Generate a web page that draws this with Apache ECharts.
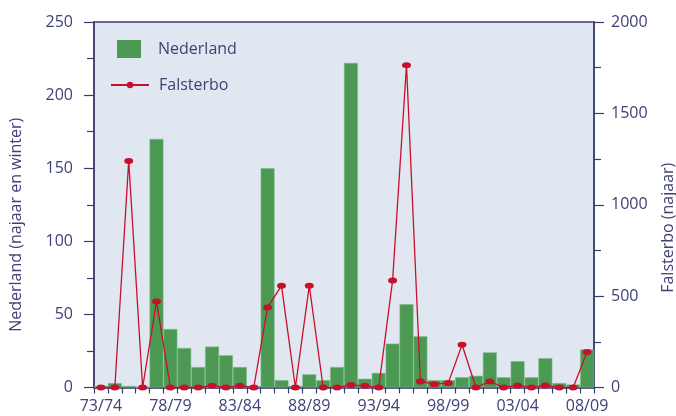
<!DOCTYPE html>
<html>
<head>
<meta charset="utf-8">
<script src="https://cdn.jsdelivr.net/npm/echarts@6/dist/echarts.min.js"></script>
<style>
html,body{margin:0;padding:0;background:#fff;}
#chart{width:676px;height:416px;}
</style>
</head>
<body>
<div id="chart"></div>
<script>
var seasons = ['73/74','74/75','75/76','76/77','77/78','78/79','79/80','80/81','81/82','82/83',
  '83/84','84/85','85/86','86/87','87/88','88/89','89/90','90/91','91/92','92/93',
  '93/94','94/95','95/96','96/97','97/98','98/99','99/00','00/01','01/02','02/03',
  '03/04','04/05','05/06','06/07','07/08','08/09'];
var nederland = [1,3,1,0,170,40,27,14,28,22,14,1,150,5,1,9,5,14,222,6,10,30,57,35,5,5,7,8,24,7,18,7,20,3,2,26];
var falsterbo = [0,0,1240,0,471,0,0,0,10,0,10,0,438,557,0,557,0,0,13,9,0,586,1764,33,18,24,234,0,33,0,11,0,11,0,0,194];
var leftTicks = [0,50,100,150,200,250];
var rightTicks = [0,500,1000,1500,2000];

var ink = '#3a3c70';
var txt = '#3f4275';
var font = 'Open Sans';
var chart = echarts.init(document.getElementById('chart'), null, {renderer:'canvas'});
chart.setOption({
  animation:false,
  backgroundColor:'#ffffff',
  textStyle:{fontFamily:font},
  grid:{left:94,right:82,top:22,bottom:28.5,show:true,backgroundColor:'#e1e7f1',borderColor:ink,borderWidth:1.5,
        outerBoundsMode:'none',containLabel:false},
  legend:[
    {data:[{name:'Nederland',icon:'rect'}],left:117,top:40,padding:0,orient:'vertical',itemWidth:24,itemHeight:18,
     itemStyle:{borderWidth:0},
     textStyle:{color:txt,fontSize:16,fontFamily:font,padding:[0,0,0,12]}},
    {data:['Falsterbo'],left:110,top:77,padding:0,orient:'vertical',itemWidth:38,itemHeight:8,
     textStyle:{color:txt,fontSize:16,fontFamily:font,padding:[0,0,0,5]}}
  ],
  xAxis:{
    type:'category',data:seasons,boundaryGap:true,
    axisLine:{lineStyle:{color:ink,width:1.5}},
    axisTick:{show:true,interval:0,length:6,lineStyle:{color:ink,width:1.2}},
    axisLabel:{interval:4,color:txt,fontSize:16,fontFamily:font,margin:11}
  },
  yAxis:[
    {type:'value',min:leftTicks[0],max:leftTicks[leftTicks.length-1],interval:50,position:'left',
     name:'Nederland (najaar en winter)',nameLocation:'middle',nameGap:70,
     nameTextStyle:{color:txt,fontSize:16,fontFamily:font,padding:[0,40,0,0]},
     axisLine:{show:true,lineStyle:{color:ink,width:1.5}},
     axisTick:{show:true,length:10,lineStyle:{color:ink,width:1.2}},
     minorTick:{show:true,splitNumber:2,length:7,lineStyle:{color:ink,width:1.2}},
     splitLine:{show:false},
     axisLabel:{color:txt,fontSize:16,fontFamily:font,margin:21}},
    {type:'value',min:rightTicks[0],max:rightTicks[rightTicks.length-1],interval:500,position:'right',
     name:'Falsterbo (najaar)',nameLocation:'middle',nameGap:66,nameRotate:90,
     nameTextStyle:{color:txt,fontSize:16,fontFamily:font,padding:[0,46,0,0]},
     axisLine:{show:true,lineStyle:{color:ink,width:1.5}},
     axisTick:{show:true,length:10,lineStyle:{color:ink,width:1.2}},
     minorTick:{show:true,splitNumber:2,length:7,lineStyle:{color:ink,width:1.2}},
     splitLine:{show:false},
     axisLabel:{color:txt,fontSize:16,fontFamily:font,margin:17,formatter:function(v){return String(v);}}}
  ],
  series:[
    {name:'Nederland',type:'bar',yAxisIndex:0,data:nederland,barCategoryGap:'0%',
     itemStyle:{color:'#4b9952',borderColor:'#7db887',borderWidth:0.6}},
    {name:'Falsterbo',type:'line',yAxisIndex:1,data:falsterbo,symbol:'circle',symbolSize:[9,6],
     lineStyle:{color:'#c8102e',width:1.3},itemStyle:{color:'#c8102e'}}
  ]
});
</script>
</body>
</html>
